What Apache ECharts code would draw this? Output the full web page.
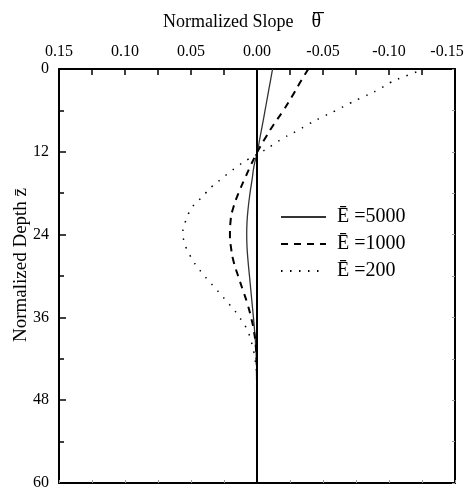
<!DOCTYPE html>
<html>
<head>
<meta charset="utf-8">
<script src="https://cdn.jsdelivr.net/npm/echarts@6/dist/echarts.min.js"></script>
<style>html,body{margin:0;padding:0;background:#fff;}#c{width:476px;height:491px;}</style>
</head>
<body>
<div id="c"></div>
<script>
// ---- data ----
const seriesNames = ['\u0112 =5000', '\u0112 =1000', '\u0112 =200'];
const xTicks = [-0.15, -0.10, -0.05, 0.00, 0.05, 0.10, 0.15];
const yTicks = [0, 12, 24, 36, 48, 60];

const depth5000 = [0, 2, 4, 6, 8, 10, 12, 14, 16, 18, 20, 22, 24, 26, 28, 30, 32, 34, 36, 38, 40, 42, 44, 48, 52, 56, 60];
const slope5000 = [-0.0118, -0.0099, -0.0080, -0.0061, -0.0042, -0.0022, -0.0003, 0.0022, 0.0037, 0.0053, 0.0066, 0.0075, 0.0078, 0.0075, 0.0067, 0.0057, 0.0047, 0.0037, 0.0027, 0.0018, 0.0010, 0.0005, 0.0002, 0, 0, 0, 0];

const depth1000 = [0, 2, 4, 6, 8, 10, 12, 14, 16, 18, 20, 22, 24, 26, 28, 30, 32, 34, 36, 38, 40, 42, 44, 48, 52, 56, 60];
const slope1000 = [-0.0389, -0.0325, -0.0265, -0.0200, -0.0128, -0.0063, -0.0003, 0.0048, 0.0095, 0.0140, 0.0178, 0.0200, 0.0205, 0.0196, 0.0176, 0.0143, 0.0108, 0.0073, 0.0045, 0.0023, 0.0010, 0.0004, 0.0001, 0, 0, 0, 0];

const depth200 = [0, 1, 2, 3, 4, 5, 6, 7, 8, 9, 10, 11, 12, 13, 14, 15, 16, 17, 18, 19, 20, 21, 22, 23, 24, 25, 26, 27, 28, 29, 30, 31, 32, 33, 34, 35, 36, 37, 38, 39, 40, 41, 42, 44, 48, 52, 56, 60];
const slope200 = [-0.127, -0.113, -0.1005, -0.092, -0.081, -0.070, -0.060, -0.049, -0.039, -0.030, -0.020, -0.012, -0.0035, 0.006, 0.014, 0.021, 0.0275, 0.034, 0.039, 0.044, 0.049, 0.052, 0.054, 0.0558, 0.0562, 0.0552, 0.0535, 0.0508, 0.0478, 0.044, 0.0398, 0.0352, 0.0305, 0.026, 0.0215, 0.017, 0.0133, 0.0097, 0.0070, 0.0051, 0.0036, 0.0024, 0.0015, 0.0005, 0, 0, 0, 0];

function pairs(xs, zs) { return zs.map((z, i) => [xs[i], z]); }

const FONT = 'Liberation Serif';
const chart = echarts.init(document.getElementById('c'), null, {renderer: 'canvas'});

function fmtX(v) {
  if (Math.abs(v) < 1e-9) return '0.00';
  const s = v.toFixed(2);
  if (v < -0.149) return '{edge|' + s + '}';
  return s;
}

const option = {
  animation: false,
  backgroundColor: '#fff',
  title: {
    text: 'Normalized Slope{t|\u03B8}',
    left: 158, top: 7,
    textStyle: {
      fontFamily: FONT, fontSize: 18, fontWeight: 'normal', color: '#000',
      rich: {t: {fontFamily: FONT, fontSize: 20, color: '#000', padding: [0, 0, 0, 18]}}
    }
  },
  graphic: [{
    type: 'rect', left: 313, top: 12, silent: true,
    shape: {width: 11, height: 1.2},
    style: {fill: '#000'}
  }],
  grid: {left: 59, right: 21, top: 69, bottom: 8, containLabel: false, outerBoundsMode: 'none'},
  legend: {
    orient: 'vertical', left: 275, top: 202,
    itemWidth: 45, itemHeight: 14, itemGap: 7,
    itemStyle: {opacity: 0},
    textStyle: {fontFamily: FONT, fontSize: 20, color: '#000', padding: [0, 0, 0, 6]},
    data: seriesNames
  },
  xAxis: [{
    type: 'value', position: 'top', inverse: true,
    min: xTicks[0], max: xTicks[xTicks.length - 1], interval: 0.05,
    axisLine: {show: true, onZero: false, lineStyle: {color: '#000', width: 2}},
    axisTick: {show: true, inside: true, length: 6, lineStyle: {color: '#000', width: 1.5}},
    minorTick: {show: true, splitNumber: 2, length: 6, lineStyle: {color: '#000', width: 1.5}},
    axisLabel: {
      formatter: fmtX, fontFamily: FONT, fontSize: 16, color: '#000', margin: 9,
      rich: {edge: {fontFamily: FONT, fontSize: 16, color: '#000', padding: [0, 16, 0, 0]}}
    },
    splitLine: {show: false}
  }, {
    type: 'value', position: 'bottom', inverse: true,
    min: xTicks[0], max: xTicks[xTicks.length - 1], interval: 0.05,
    axisLine: {show: true, onZero: false, lineStyle: {color: '#000', width: 2}},
    axisTick: {show: true, inside: true, length: 3, lineStyle: {color: '#999', width: 1}},
    minorTick: {show: true, splitNumber: 2, length: 3, lineStyle: {color: '#999', width: 1}},
    axisLabel: {show: false},
    splitLine: {show: false}
  }],
  yAxis: [{
    type: 'value', position: 'left', inverse: true,
    min: yTicks[0], max: yTicks[yTicks.length - 1], interval: 12,
    name: 'Normalized Depth z\u0304',
    nameLocation: 'middle', nameGap: 28, nameMoveOverlap: false,
    nameTextStyle: {fontFamily: FONT, fontSize: 19, color: '#000', padding: [0, 0, 0, 22]},
    axisLine: {show: true, onZero: false, lineStyle: {color: '#000', width: 2}},
    axisTick: {show: true, inside: true, length: 7, lineStyle: {color: '#000', width: 1.5}},
    minorTick: {show: true, splitNumber: 2, length: 5, lineStyle: {color: '#000', width: 1.5}},
    axisLabel: {fontFamily: FONT, fontSize: 16, color: '#000', margin: 10},
    splitLine: {show: false}
  }, {
    type: 'value', position: 'right', inverse: true,
    min: yTicks[0], max: yTicks[yTicks.length - 1], interval: 12,
    axisLine: {show: true, onZero: false, lineStyle: {color: '#000', width: 2}},
    axisTick: {show: true, inside: true, length: 3, lineStyle: {color: '#999', width: 1}},
    minorTick: {show: true, splitNumber: 2, length: 3, lineStyle: {color: '#999', width: 1}},
    axisLabel: {show: false},
    splitLine: {show: false}
  }],
  series: [{
    name: seriesNames[0], type: 'line', smooth: true, symbol: 'none',
    xAxisIndex: 0, yAxisIndex: 0,
    data: pairs(slope5000, depth5000),
    lineStyle: {color: '#333', width: 1.3, type: 'solid'},
    itemStyle: {color: '#333'},
    markLine: {
      silent: true, symbol: 'none', label: {show: false},
      lineStyle: {color: '#000', width: 2, type: 'solid'},
      data: [{xAxis: 0}]
    }
  }, {
    name: seriesNames[1], type: 'line', smooth: true, symbol: 'none',
    xAxisIndex: 0, yAxisIndex: 0,
    data: pairs(slope1000, depth1000),
    lineStyle: {color: '#000', width: 2, type: [7, 6]},
    itemStyle: {color: '#000'}
  }, {
    name: seriesNames[2], type: 'line', smooth: true, symbol: 'none',
    xAxisIndex: 0, yAxisIndex: 0,
    data: pairs(slope200, depth200),
    lineStyle: {color: '#000', width: 1.5, type: [1.5, 7.5]},
    itemStyle: {color: '#000'}
  }]
};
chart.setOption(option);
</script>
</body>
</html>
